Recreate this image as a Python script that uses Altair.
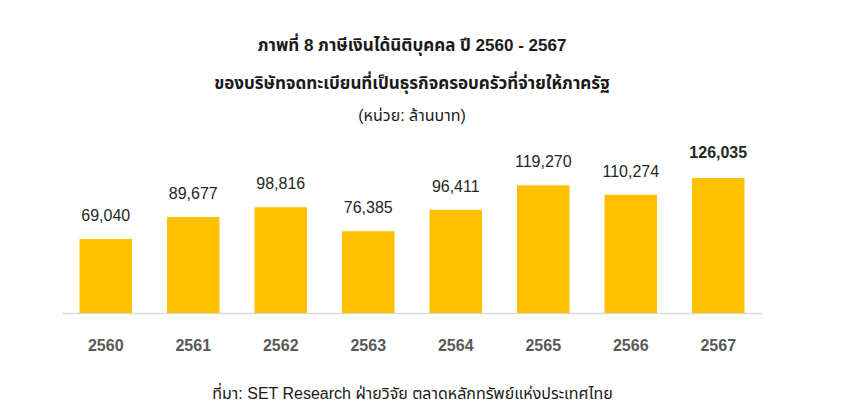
import altair as alt
import pandas as pd

years = ["2560", "2561", "2562", "2563", "2564", "2565", "2566", "2567"]
values = [69040, 89677, 98816, 76385, 96411, 119270, 110274, 126035]
highlight_year = "2567"

title_lines = ["ภาพที่ 8 ภาษีเงินได้นิติบุคคล ปี 2560 - 2567",
               "ของบริษัทจดทะเบียนที่เป็นธุรกิจครอบครัวที่จ่ายให้ภาครัฐ"]
subtitle = "(หน่วย: ล้านบาท)"
source = "ที่มา: SET Research ฝ่ายวิจัย ตลาดหลักทรัพย์แห่งประเทศไทย"

df = pd.DataFrame({"year": years, "value": values})

FONT = "Liberation Sans, Arial, Noto Sans Thai, sans-serif"

x = alt.X("year:N", sort=years,
          scale=alt.Scale(paddingInner=0.4, paddingOuter=0.2),
          axis=alt.Axis(title=source, labelAngle=0, labelFontSize=16,
                        labelFontWeight="bold", labelColor="#595959",
                        labelPadding=24, ticks=False, domainColor="#d9d9d9",
                        domainWidth=1.5, titleFontSize=16, titleFontWeight="normal",
                        titleColor="#1a1a1a", titlePadding=32, labelFont=FONT,
                        titleFont=FONT))
y = alt.Y("value:Q", scale=alt.Scale(domain=[0, 140000]), axis=None)

base = alt.Chart(df).encode(x=x, y=y)

bars = base.mark_bar(color="#FFC000")
labels = base.transform_filter(alt.datum.year != highlight_year).mark_text(
    dy=-23, fontSize=16, color="#262626", font=FONT
).encode(text=alt.Text("value:Q", format=","))
labels_hl = base.transform_filter(alt.datum.year == highlight_year).mark_text(
    dy=-25, fontSize=16, fontWeight="bold", color="#262626", font=FONT
).encode(text=alt.Text("value:Q", format=","))

chart = alt.layer(bars, labels, labels_hl).properties(
    width=700, height=150,
    background="white",
    title=alt.TitleParams(text=title_lines, subtitle=subtitle, fontSize=17,
                          fontWeight="bold", color="#1a1a1a", lineHeight=38,
                          subtitleFontSize=16, subtitleColor="#1a1a1a",
                          subtitlePadding=15, offset=20, anchor="middle",
                          font=FONT, subtitleFont=FONT),
    autosize=alt.AutoSizeParams(type="none"),
    padding={"left": 54, "top": 155, "right": 90, "bottom": 98},
).configure_view(strokeWidth=0)

chart.save("out.html", embed_options={"renderer": "svg", "actions": False})
